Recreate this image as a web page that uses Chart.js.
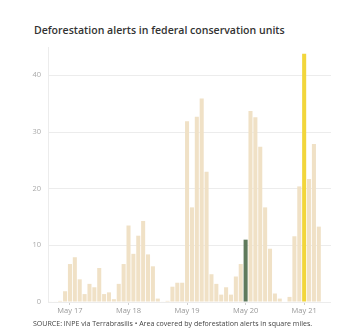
<!DOCTYPE html>
<html>
<head>
<meta charset="utf-8">
<script src="https://cdn.jsdelivr.net/npm/chart.js@4/dist/chart.umd.min.js"></script>
<style>
  html, body { margin: 0; padding: 0; background: #fff; }
  #wrap { position: relative; width: 352px; height: 333px; overflow: hidden; }
  #title { position: absolute; left: 34px; top: 23px; font-family: "Open Sans", sans-serif; font-weight: 600; font-size: 10.55px; line-height: 15px; color: #333; white-space: nowrap; }
  #source { position: absolute; left: 33px; top: 318px; font-family: "Open Sans", sans-serif; font-size: 7.05px; line-height: 10px; color: #444; white-space: nowrap; }
  canvas { position: absolute; left: 0; top: 0; }
</style>
</head>
<body>
<div id="wrap">
  <div id="title">Deforestation alerts in federal conservation units</div>
  <canvas id="c" width="352" height="333"></canvas>
  <div id="source">SOURCE: INPE via Terrabrasilis • Area covered by deforestation alerts in square miles.</div>
</div>
<script>
// Monthly periods, Jan 2017 – Oct 2021
const months = [
  "Jan 17","Feb 17","Mar 17","Apr 17","May 17","Jun 17","Jul 17","Aug 17","Sep 17","Oct 17","Nov 17","Dec 17",
  "Jan 18","Feb 18","Mar 18","Apr 18","May 18","Jun 18","Jul 18","Aug 18","Sep 18","Oct 18","Nov 18","Dec 18",
  "Jan 19","Feb 19","Mar 19","Apr 19","May 19","Jun 19","Jul 19","Aug 19","Sep 19","Oct 19","Nov 19","Dec 19",
  "Jan 20","Feb 20","Mar 20","Apr 20","May 20","Jun 20","Jul 20","Aug 20","Sep 20","Oct 20","Nov 20","Dec 20",
  "Jan 21","Feb 21","Mar 21","Apr 21","May 21","Jun 21","Jul 21","Aug 21","Sep 21","Oct 21"
];

// Area covered by deforestation alerts, square miles
const alertArea = [
  0.1, 0.1, 0.2, 1.9, 6.7, 7.9, 4.0, 1.4, 3.2, 2.6, 6.0, 1.4,
  1.7, 0.5, 3.2, 6.7, 13.5, 8.5, 11.7, 14.3, 8.4, 6.3, 0.6, 0.1,
  0.2, 2.7, 3.4, 3.4, 31.9, 16.7, 32.7, 35.9, 23.0, 4.9, 3.2, 1.3,
  2.6, 1.3, 4.5, 6.7, 11.0, 33.7, 32.6, 27.4, 16.7, 9.4, 1.5, 0.6,
  0.0, 0.9, 11.6, 20.4, 43.8, 21.7, 27.9, 13.3, null, null
];

// Months shown on the x axis
const xTickLabels = ["May 17", "May 18", "May 19", "May 20", "May 21"];
// Y axis ticks
const yTickValues = [0, 10, 20, 30, 40];

// Highlighted months
const highlightMonths = ["May 20", "May 21"];
const highlightColors = ["#5f7a5c", "#f2d63b"];
const baseColor = "#f0e1c6";

const barColors = months.map(m => {
  const h = highlightMonths.indexOf(m);
  return h >= 0 ? highlightColors[h] : baseColor;
});

const tickFont = { family: "'Open Sans', sans-serif", size: 7.5 };

new Chart(document.getElementById("c"), {
  type: "bar",
  data: {
    labels: months,
    datasets: [{
      data: alertArea,
      backgroundColor: barColors,
      borderWidth: 0,
      barPercentage: 1.0,
      categoryPercentage: 0.83
    }]
  },
  options: {
    responsive: false,
    animation: false,
    events: [],
    layout: { padding: { top: 47, right: 21, left: 0, bottom: 0 } },
    plugins: { legend: { display: false }, tooltip: { enabled: false } },
    scales: {
      x: {
        grid: {
          display: true,
          offset: false,
          drawOnChartArea: false,
          drawTicks: true,
          tickLength: 3,
          color: ctx => (ctx.tick && xTickLabels.includes(months[ctx.tick.value])) ? "#cfcfcf" : "rgba(0,0,0,0)"
        },
        border: { display: false },
        ticks: {
          autoSkip: false,
          maxRotation: 0,
          minRotation: 0,
          padding: 1,
          color: "#999",
          font: tickFont,
          callback: (v, i) => xTickLabels.includes(months[i]) ? months[i] : ""
        },
        afterFit: s => { s.height = 31; }
      },
      y: {
        min: 0,
        max: 45,
        afterBuildTicks: s => { s.ticks = yTickValues.map(v => ({ value: v })); },
        grid: { color: "#ececec", lineWidth: 1, drawTicks: false },
        border: { display: true, color: "#ececec" },
        ticks: { padding: 7, color: "#aaa", font: tickFont },
        afterFit: s => { s.width = 48; }
      }
    }
  }
});
</script>
</body>
</html>
